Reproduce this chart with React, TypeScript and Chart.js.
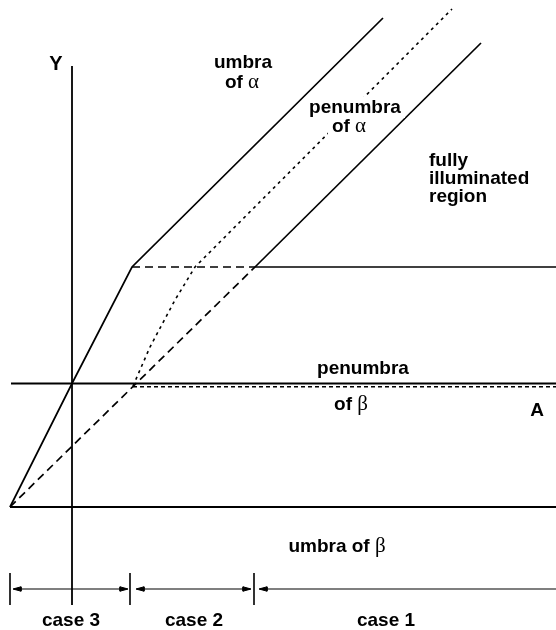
import React, { useEffect, useRef } from "react";
import { Chart, registerables } from "chart.js";

Chart.register(...registerables);

// Diagram geometry (data units = canvas pixel grid, y grows downward)
const yAxisLine = [{ x: 72, y: 66 }, { x: 72, y: 605 }];
const betaPenumbraTop = [{ x: 11, y: 383.5 }, { x: 556, y: 383.5 }];
const betaPenumbraDotted = [{ x: 133, y: 386.8 }, { x: 556, y: 386.8 }];
const betaUmbraTop = [{ x: 10, y: 507 }, { x: 556, y: 507 }];
const alphaUmbraEdge = [{ x: 10, y: 507 }, { x: 72, y: 383.5 }, { x: 132, y: 267 }, { x: 383, y: 18 }];
const alphaUmbraDashed = [{ x: 132, y: 267 }, { x: 255, y: 267 }];
const alphaUmbraFlat = [{ x: 255, y: 267 }, { x: 556, y: 267 }];
const outerDashed = [{ x: 10, y: 507 }, { x: 255, y: 267 }];
const outerSolid = [{ x: 255, y: 267 }, { x: 481, y: 43 }];
const penumbraDotted = [{ x: 133, y: 386 }, { x: 150, y: 347 }, { x: 175, y: 300 }, { x: 195, y: 267 }, { x: 452, y: 9 }];
const caseTicks = [
  { x: 10, y: 573 }, { x: 10, y: 605 }, { x: 10, y: null },
  { x: 130, y: 573 }, { x: 130, y: 605 }, { x: 130, y: null },
  { x: 254, y: 573 }, { x: 254, y: 605 },
];
const caseArrows = [
  { x: 14, y: 589 }, { x: 126, y: 589 }, { x: 126, y: null },
  { x: 137, y: 589 }, { x: 250, y: 589 }, { x: 250, y: null },
  { x: 260, y: 589 }, { x: 556, y: 589 },
];
// arrow tips: [tipX, y, direction]
const arrowTips: [number, number, number][] = [
  [13, 589, -1], [128, 589, 1], [136, 589, -1], [251, 589, 1], [259, 589, -1],
];

type Part = [string, "b" | "g" | "B"];
const textLabels: { parts: Part[]; x: number; y: number; align: "center" | "left"; bg?: boolean }[] = [
  { parts: [["Y", "B"]], x: 56, y: 70, align: "center" },
  { parts: [["umbra", "b"]], x: 243, y: 68, align: "center" },
  { parts: [["of ", "b"], ["α", "g"]], x: 242, y: 88, align: "center" },
  { parts: [["penumbra", "b"]], x: 355, y: 113, align: "center", bg: true },
  { parts: [["of ", "b"], ["α", "g"]], x: 349, y: 132, align: "center", bg: true },
  { parts: [["fully", "b"]], x: 429, y: 166, align: "left" },
  { parts: [["illuminated", "b"]], x: 429, y: 184, align: "left" },
  { parts: [["region", "b"]], x: 429, y: 202, align: "left" },
  { parts: [["penumbra", "b"]], x: 363, y: 374, align: "center" },
  { parts: [["of ", "b"], ["β", "g"]], x: 351, y: 410, align: "center" },
  { parts: [["A", "b"]], x: 537, y: 416, align: "center" },
  { parts: [["umbra of ", "b"], ["β", "g"]], x: 337, y: 552, align: "center" },
  { parts: [["case 3", "b"]], x: 71, y: 626, align: "center" },
  { parts: [["case 2", "b"]], x: 194, y: 626, align: "center" },
  { parts: [["case 1", "b"]], x: 386, y: 626, align: "center" },
];

const FONTS: Record<string, string> = {
  b: 'bold 19px "Liberation Sans", Arial, sans-serif',
  B: 'bold 20px "Liberation Sans", Arial, sans-serif',
  g: '21px "Liberation Serif", "DejaVu Serif", serif',
};

const textPlugin = {
  id: "diagramText",
  afterDatasetsDraw(chart: any) {
    const ctx = chart.ctx as CanvasRenderingContext2D;
    const xs = chart.scales.x;
    const ys = chart.scales.y;
    ctx.save();
    ctx.textBaseline = "alphabetic";
    ctx.textAlign = "left";
    for (const lab of textLabels) {
      const widths = lab.parts.map(([t, f]) => {
        ctx.font = FONTS[f];
        return ctx.measureText(t).width;
      });
      const total = widths.reduce((a, b) => a + b, 0);
      const px = xs.getPixelForValue(lab.x);
      const py = ys.getPixelForValue(lab.y);
      let sx = lab.align === "center" ? px - total / 2 : px;
      if (lab.bg) {
        ctx.fillStyle = "#fff";
        ctx.fillRect(sx - 4, py - 16, total + 8, 21);
      }
      ctx.fillStyle = "#000";
      lab.parts.forEach(([t, f], i) => {
        ctx.font = FONTS[f];
        ctx.fillText(t, sx, py);
        sx += widths[i];
      });
    }
    ctx.restore();
  },
};

function lineSet(data: any[], width: number, dash: number[] = []) {
  return {
    data,
    showLine: true,
    borderColor: "#000",
    borderWidth: width,
    borderDash: dash,
    pointRadius: 0,
    pointHoverRadius: 0,
    fill: false,
    spanGaps: false,
    tension: 0,
  };
}

export default function App() {
  const ref = useRef<HTMLCanvasElement>(null);
  useEffect(() => {
    document.body.style.margin = "0";
    const headSets = arrowTips.map(([x, y, d]) => ({
      data: [
        { x: x, y: y },
        { x: x - d * 8, y: y - 2.2 },
        { x: x - d * 8, y: y + 2.2 },
        { x: x, y: y },
      ],
      showLine: true,
      borderColor: "#000",
      backgroundColor: "#000",
      borderWidth: 1,
      pointRadius: 0,
      fill: "shape",
      tension: 0,
    }));
    const chart = new Chart(ref.current!, {
      type: "scatter",
      data: {
        datasets: [
          lineSet(yAxisLine, 1.8),
          lineSet(betaPenumbraTop, 2),
          lineSet(betaPenumbraDotted, 1.5, [4, 3]),
          lineSet(betaUmbraTop, 1.8),
          lineSet(alphaUmbraEdge, 1.7),
          lineSet(alphaUmbraDashed, 1.7, [8, 5]),
          lineSet(alphaUmbraFlat, 1.7),
          lineSet(outerDashed, 1.7, [8, 5]),
          lineSet(outerSolid, 1.7),
          lineSet(penumbraDotted, 1.6, [3, 4]),
          lineSet(caseTicks, 1.6),
          lineSet(caseArrows, 1.2),
          ...headSets,
        ] as any,
      },
      options: {
        animation: false,
        responsive: false,
        events: [],
        layout: { padding: 0 },
        scales: {
          x: { type: "linear", min: 0, max: 556, display: false },
          y: { type: "linear", min: 0, max: 630, reverse: true, display: false },
        },
        plugins: { legend: { display: false }, tooltip: { enabled: false } },
      },
      plugins: [textPlugin],
    });
    return () => chart.destroy();
  }, []);
  return (
    <div style={{ position: "fixed", left: 0, top: 0, width: 556, height: 630, background: "#fff" }}>
      <canvas ref={ref} width={556} height={630} />
    </div>
  );
}
